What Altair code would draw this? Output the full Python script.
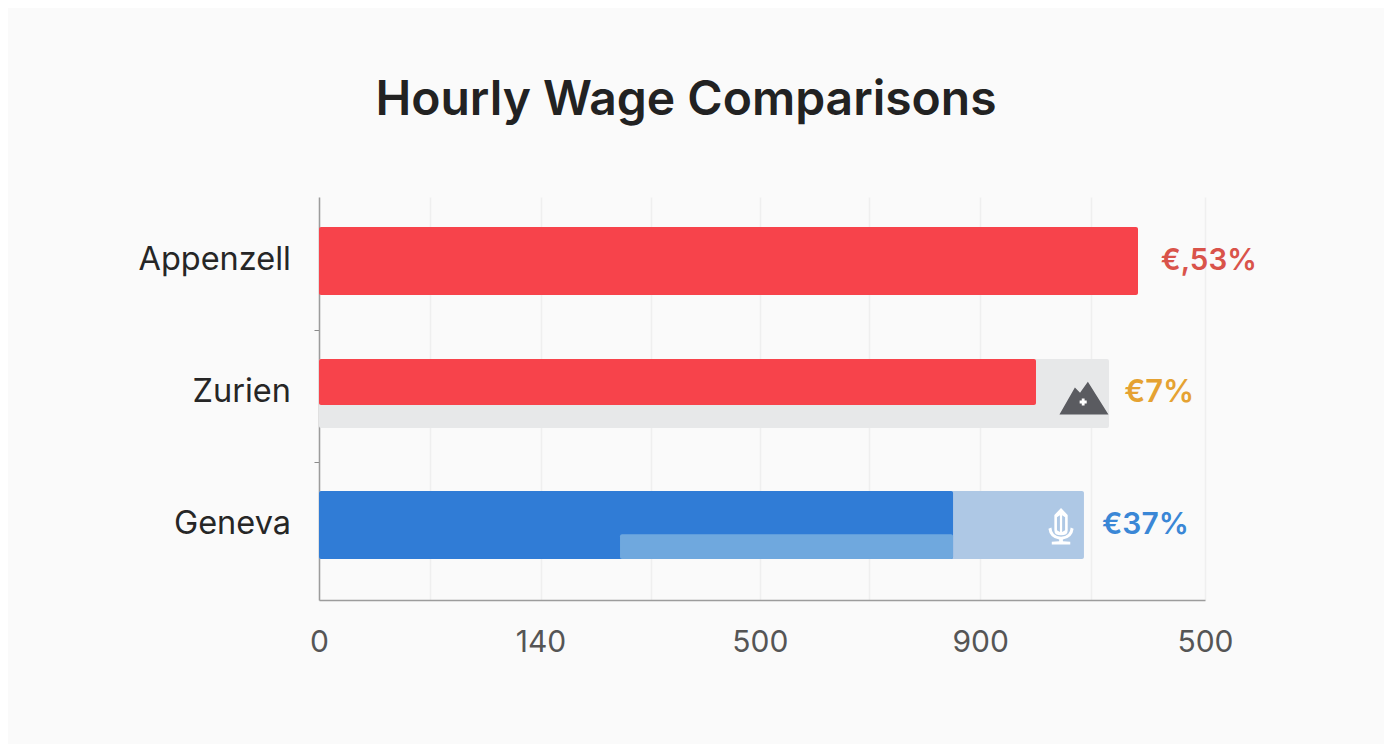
import altair as alt
import pandas as pd

TITLE = "Hourly Wage Comparisons"
CITIES = ["Appenzell", "Zurien", "Geneva"]
ROWS = [0, 1, 2]
TICK_POS = [0, 1, 2, 3, 3.98, 4.97, 5.97, 6.97, 8]
TICK_LABELS = {"0": "0", "2": "140", "3.98": "500", "5.97": "900", "8": "500"}

BAR_START = [0, 0, 0, 0, 0, 2.718]
BAR_END = [7.395, 7.133, 6.474, 6.907, 5.725, 5.725]
BAR_TOP = [-0.258, 0.742, 0.742, 1.742, 1.742, 2.07]
BAR_BOTTOM = [0.258, 1.265, 1.09, 2.258, 2.258, 2.258]
BAR_COLORS = ["#f7434b", "#e7e8e9", "#f7434b", "#aec8e5", "#307cd6", "#6fa8de"]

VALUE_LABELS = ["€,53%", "€7%", "€37%"]
VALUE_COLORS = ["#d9534a", "#e5a232", "#3a87d6"]
VALUE_X = [7.6, 7.27, 7.07]
VALUE_SIZES = [29.5, 31, 30]

MOUNTAIN = "M-1 0.67 L-0.37 -0.43 L-0.16 -0.22 L0.16 -0.67 L1 0.67 Z"
MIC = (
    "M0 -1 L0.36 -0.62 L0.36 0.2 Q0.36 0.48 0 0.48 Q-0.36 0.48 -0.36 0.2 L-0.36 -0.62 Z "
    "M-0.22 -0.5 L-0.22 0.2 L-0.06 0.3 L-0.06 -0.6 Z "
    "M0.06 -0.6 L0.06 0.3 L0.22 0.2 L0.22 -0.5 Z "
    "M-0.68 0.12 L-0.52 0.05 Q-0.5 0.52 0 0.55 Q0.5 0.52 0.52 0.05 L0.68 0.12 "
    "Q0.62 0.62 0.1 0.7 L0.1 0.8 L0.5 0.82 L0.5 0.98 L-0.5 0.98 L-0.5 0.82 L-0.1 0.8 L-0.1 0.7 "
    "Q-0.62 0.62 -0.68 0.12 Z"
)

bars = pd.DataFrame({
    "x": BAR_START, "x2": BAR_END, "y": BAR_TOP, "y2": BAR_BOTTOM,
    "c": BAR_COLORS, "o": list(range(len(BAR_COLORS))),
})
rows = pd.DataFrame({"city": CITIES, "row": ROWS, "label": VALUE_LABELS,
                     "c": VALUE_COLORS, "vx": VALUE_X, "s": VALUE_SIZES})

xs = alt.Scale(domain=[0, 8], nice=False, zero=False)
ys = alt.Scale(domain=[-0.485, 2.568], reverse=True, nice=False, zero=False)

label_expr = "{" + ",".join(f"'{k}':'{v}'" for k, v in TICK_LABELS.items()) + "}['' + datum.value] || ''"

bar_layer = alt.Chart(bars).mark_bar(cornerRadius=2).encode(
    x=alt.X("x:Q", scale=xs, axis=alt.Axis(
        values=TICK_POS, labelExpr=label_expr, title=None, tickSize=0, labelPadding=27,
        labelFontSize=30, labelColor="#555555", labelFont="Inter", labelOverlap=False,
        labelFlush=False, labelBound=False, grid=True, gridColor="#efefef", gridWidth=1.5,
        domainColor="#9c9c9c", domainWidth=1.5)),
    x2="x2:Q",
    y=alt.Y("y:Q", scale=ys, axis=alt.Axis(
        values=[0.52, 1.52], labels=False, title=None, grid=False, tickSize=5, tickColor="#8a8a8a",
        domainColor="#9c9c9c", domainWidth=1.5)),
    y2="y2:Q",
    color=alt.Color("c:N", scale=None),
    order="o:Q",
)

city_layer = alt.Chart(rows).mark_text(align="right", baseline="middle", font="Inter", fontSize=32.5,
                                        color="#262626", dy=-1.5).encode(
    x=alt.value(-28), y=alt.Y("row:Q", scale=ys), text="city:N")

value_layer = alt.Chart(rows).mark_text(align="left", baseline="middle", font="Inter",
                                         fontWeight=600).encode(
    x=alt.X("vx:Q", scale=xs), y=alt.Y("row:Q", scale=ys), text="label:N",
    color=alt.Color("c:N", scale=None), size=alt.Size("s:Q", scale=None))

mountain = alt.Chart(pd.DataFrame({"x": [6.907], "y": [1.038]})).mark_point(
    shape=MOUNTAIN, filled=True, opacity=1, color="#5a5b60", size=2400).encode(
    x=alt.X("x:Q", scale=xs), y=alt.Y("y:Q", scale=ys))
cross = alt.Chart(pd.DataFrame({"x": [6.90], "y": [1.068]})).mark_point(
    shape="cross", filled=True, opacity=1, color="#ffffff", size=50).encode(
    x=alt.X("x:Q", scale=xs), y=alt.Y("y:Q", scale=ys))
mic = alt.Chart(pd.DataFrame({"x": [6.70], "y": [2.011]})).mark_point(
    shape=MIC, filled=True, opacity=1, color="#ffffff", size=1370).encode(
    x=alt.X("x:Q", scale=xs), y=alt.Y("y:Q", scale=ys))

chart = alt.layer(bar_layer, mountain, cross, mic, city_layer, value_layer).properties(
    width=886, height=403,
    background="#fafafa",
    autosize=alt.AutoSizeParams(type="none"),
    padding={"left": 311, "top": 189, "right": 179, "bottom": 144},
    title=alt.TitleParams(TITLE, font="Inter", fontSize=48, fontWeight=600, color="#222222",
                          anchor="middle", frame="group", dx=-76, offset=72),
).configure_view(stroke=None)

chart.save("out.html", embed_options={"renderer": "svg", "actions": False})
